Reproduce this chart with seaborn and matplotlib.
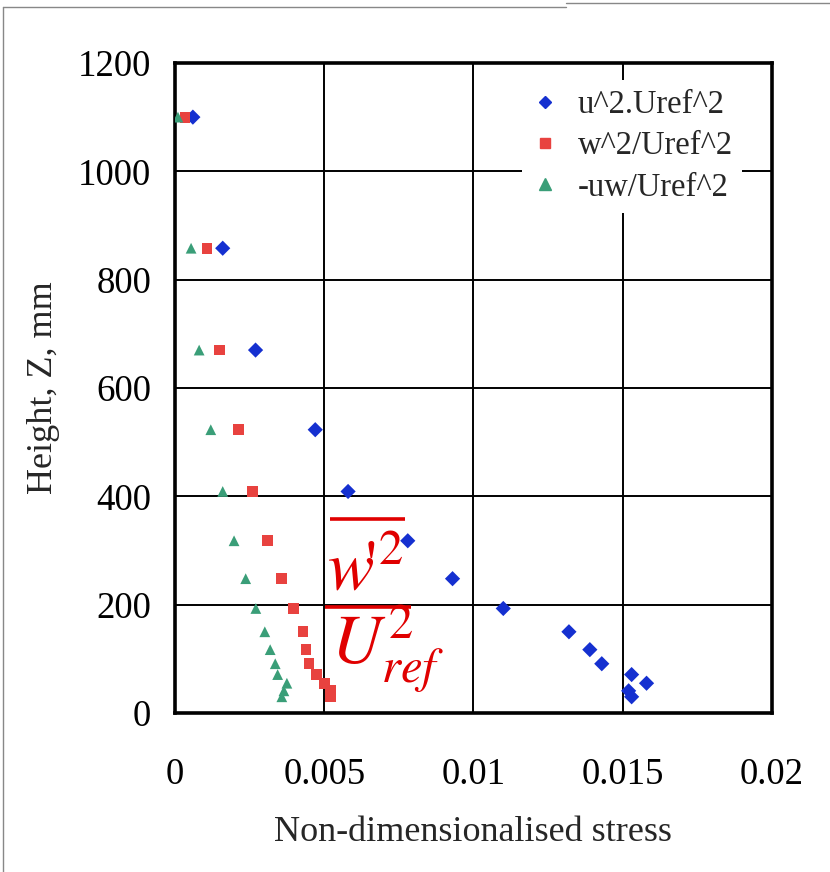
import numpy as np
import pandas as pd
import matplotlib
matplotlib.use("Agg")
import matplotlib.pyplot as plt
import seaborn as sns
from matplotlib.lines import Line2D

# ---- data ----
heights = [1100, 858, 670, 523, 409, 318, 248, 193, 150, 117, 91, 71, 55, 41, 30]
uu = [0.0006, 0.0016, 0.0027, 0.0047, 0.0058, 0.0078, 0.0093, 0.0110, 0.0132,
      0.0139, 0.0143, 0.0153, 0.0158, 0.0152, 0.0153]
ww = [0.00034, 0.00107, 0.00148, 0.00213, 0.0026, 0.0031, 0.00356, 0.00397,
      0.00429, 0.00439, 0.00449, 0.00474, 0.00501, 0.00521, 0.0052]
uw = [0.0001, 0.00054, 0.00081, 0.0012, 0.0016, 0.00198, 0.00237, 0.00271,
      0.00301, 0.00319, 0.00336, 0.00344, 0.00375, 0.00365, 0.00358]
series_names = ["u^2.Uref^2", "w^2/Uref^2", "-uw/Uref^2"]
xticks = [0, 0.005, 0.01, 0.015, 0.02]
xticklabels = ["0", "0.005", "0.01", "0.015", "0.02"]
yticks = [0, 200, 400, 600, 800, 1000, 1200]

colors = ["#1530d0", "#e8423f", "#3a9e78"]
markers = ["D", "s", "^"]

df = pd.concat([
    pd.DataFrame({"stress": v, "height": heights, "series": n})
    for v, n in zip([uu, ww, uw], series_names)
], ignore_index=True)

sns.set_theme(style="white")
plt.rcParams["font.family"] = ["Liberation Serif", "DejaVu Serif"]
plt.rcParams["mathtext.fontset"] = "stix"

fig = plt.figure(figsize=(8.3, 8.72), dpi=100)
ax = fig.add_axes([0.2108, 0.1823, 0.7192, 0.7455])

sns.scatterplot(data=df, x="stress", y="height", hue="series", style="series",
                palette=dict(zip(series_names, colors)),
                markers=dict(zip(series_names, markers)),
                hue_order=series_names, style_order=series_names,
                s=60, linewidth=0, ax=ax, legend=False, zorder=3)
for coll, sz in zip(ax.collections, [60, 85, 140]):
    coll.set_sizes([sz])

ax.set_xlim(0, 0.02)
ax.set_ylim(0, 1200)
ax.set_xticks(xticks)
ax.set_xticklabels(xticklabels)
ax.set_yticks(yticks)
ax.grid(True, color="black", linewidth=1.4)
ax.set_axisbelow(True)
for sp in ax.spines.values():
    sp.set_color("black")
    sp.set_linewidth(2.6)
ax.tick_params(axis="both", direction="out", length=7, width=1.0, color="#b0b0b0",
               labelsize=26.5, labelcolor="black")
ax.tick_params(axis="x", pad=25)
ax.tick_params(axis="y", pad=10)
ax.set_xlabel("Non-dimensionalised stress", fontsize=26, labelpad=17)
ax.set_ylabel("Height, Z, mm", fontsize=26, labelpad=13)

handles = [Line2D([], [], linestyle="none", marker=m, color=c, markersize=ms)
           for m, c, ms in zip(markers, colors, [6, 7, 8])]
leg = ax.legend(handles, series_names, loc="upper right",
                bbox_to_anchor=(0.978, 0.999), fontsize=23.5, frameon=True,
                facecolor="white", edgecolor="none", framealpha=1,
                handlelength=0.8, handletextpad=0.6, labelspacing=0.33,
                borderpad=0.3)
leg.set_zorder(5)

# red formula annotation
red = "#e00000"
ax.plot([0.26, 0.385], [0.298, 0.298], color=red, lw=2.6, transform=ax.transAxes,
        solid_capstyle="butt", zorder=4)
ax.plot([0.251, 0.395], [0.163, 0.163], color=red, lw=2.6, transform=ax.transAxes,
        solid_capstyle="butt", zorder=4)
ax.text(0.255, 0.19, r"$w\!'^{2}$", color=red, fontsize=50,
        transform=ax.transAxes, ha="left", va="baseline", zorder=4)
ax.text(0.262, 0.075, r"$U_{ref}^{2}$", color=red, fontsize=50,
        transform=ax.transAxes, ha="left", va="baseline", zorder=4)

# thin page border
fig.add_artist(Line2D([0.0036, 0.0036], [0, 0.992], color="#888888", lw=1,
                      transform=fig.transFigure))
fig.add_artist(Line2D([0.0036, 0.682], [0.992, 0.992], color="#888888", lw=1,
                      transform=fig.transFigure))
fig.add_artist(Line2D([0.682, 1.0], [0.9966, 0.9966], color="#888888", lw=1,
                      transform=fig.transFigure))

fig.savefig("out.png", dpi=100)
